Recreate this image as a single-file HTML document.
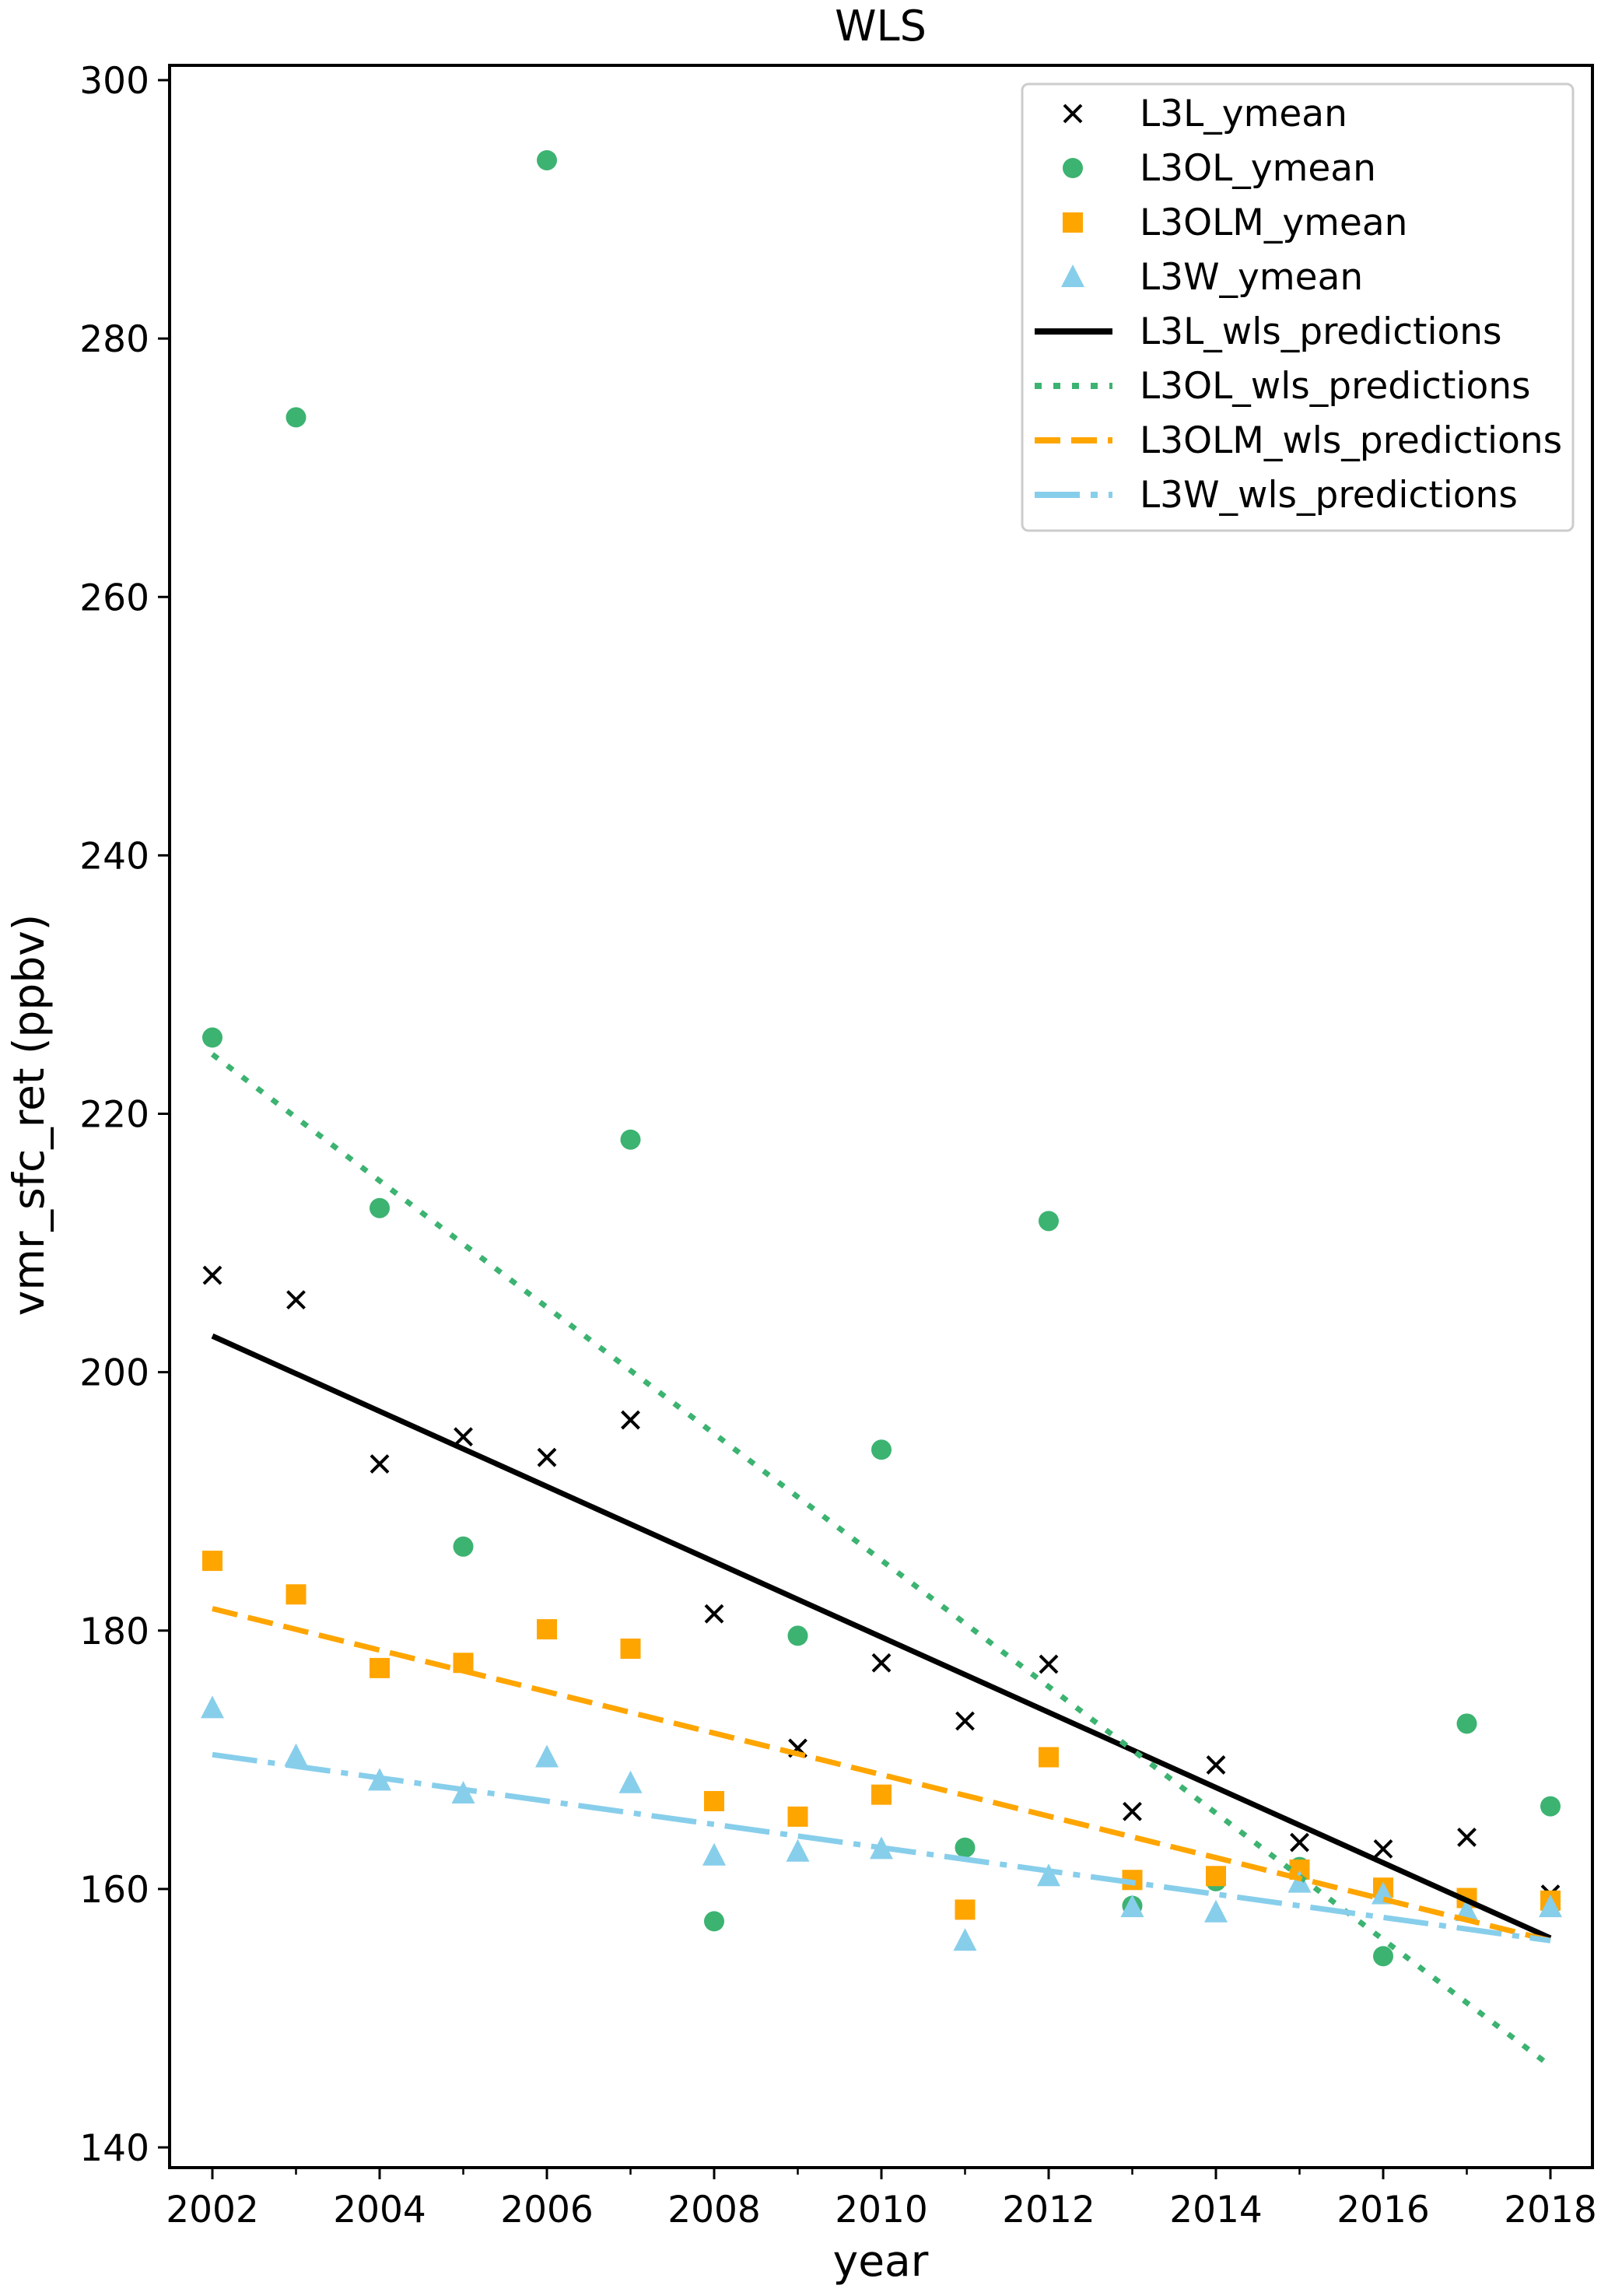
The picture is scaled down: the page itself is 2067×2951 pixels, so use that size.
<!DOCTYPE html>
<html><head><meta charset="utf-8"><style>
html,body{margin:0;padding:0;background:#fff}
svg text{font-family:"DejaVu Sans","Liberation Sans",sans-serif;fill:#000}
</style></head><body>
<svg id="chart" width="2067" height="2946" viewBox="0 0 2067 2946" xmlns="http://www.w3.org/2000/svg">
<rect width="2067" height="2946" fill="#fff"/>
<text x="1132" y="52" font-size="54" text-anchor="middle">WLS</text>
<g id="plot"></g>
<g id="axes"></g>
<text x="1132" y="2925" font-size="55" text-anchor="middle">year</text>
<text transform="translate(56,1433) rotate(-90)" font-size="55" text-anchor="middle">vmr_sfc_ret (ppbv)</text>
<g id="legend"></g>
</svg>
<script>
const years=[2002,2003,2004,2005,2006,2007,2008,2009,2010,2011,2012,2013,2014,2015,2016,2017,2018];
const l3l=[207.5,205.6,192.9,195.0,193.4,196.3,181.3,170.9,177.5,173.0,177.4,166.0,169.6,163.6,163.1,164.0,159.6];
const l3ol=[225.9,273.9,212.7,186.5,293.8,218.0,157.5,179.6,194.0,163.2,211.7,158.7,160.6,161.7,154.8,172.8,166.4];
const l3olm=[185.4,182.8,177.1,177.5,180.1,178.6,166.8,165.6,167.3,158.4,170.2,160.7,161.0,161.5,160.1,159.3,159.1];
const l3w=[174.0,170.3,168.4,167.4,170.2,168.2,162.6,162.9,163.1,156.0,161.0,158.6,158.2,160.5,159.6,158.3,158.6];
const predYears=[2002,2018];
const l3lPred=[202.8,156.2];
const l3olPred=[224.6,146.3];
const l3olmPred=[181.7,156.0];
const l3wPred=[170.4,156.0];
const xTicks=[2002,2004,2006,2008,2010,2012,2014,2016,2018];
const xMinor=[2003,2005,2007,2009,2011,2013,2015,2017];
const yTicks=[140,160,180,200,220,240,260,280,300];

const NS="http://www.w3.org/2000/svg";
const L=218,R=2047,T=84,B=2786;
const X=v=>273+(v-2002)*107.5;
const Y=v=>103+(300-v)*(2760-103)/160;
function mk(tag,attrs,parent){const e=document.createElementNS(NS,tag);for(const k in attrs)e.setAttribute(k,attrs[k]);parent.appendChild(e);return e;}
const plot=document.getElementById('plot'),axes=document.getElementById('axes'),leg=document.getElementById('legend');
const C={green:'#3cb371',orange:'#ffa500',blue:'#87ceeb'};

function cross(x,y,p){return mk('path',{d:`M${x-11},${y-11}L${x+11},${y+11}M${x-11},${y+11}L${x+11},${y-11}`,stroke:'#000','stroke-width':4},p);}
function circ(x,y,p){return mk('circle',{cx:x,cy:y,r:13,fill:C.green},p);}
function sq(x,y,p){return mk('rect',{x:x-13,y:y-13,width:26,height:26,fill:C.orange},p);}
function tri(x,y,p){return mk('path',{d:`M${x},${y-16}L${x+15},${y+13}L${x-15},${y+13}Z`,fill:C.blue},p);}

const lineStyles=[
 {vals:l3lPred,color:'#000',dash:'',name:'l3l-wls-line'},
 {vals:l3olPred,color:C.green,dash:'9,15',name:'l3ol-wls-line'},
 {vals:l3olmPred,color:C.orange,dash:'33,14',name:'l3olm-wls-line'},
 {vals:l3wPred,color:C.blue,dash:'58,14,9,14',name:'l3w-wls-line'}];
const pointSets=[
 {vals:l3l,fn:cross,name:'l3l-point'},
 {vals:l3ol,fn:circ,name:'l3ol-point'},
 {vals:l3olm,fn:sq,name:'l3olm-point'},
 {vals:l3w,fn:tri,name:'l3w-point'}];
pointSets.forEach(s=>{s.vals.forEach((v,i)=>{const e=s.fn(X(years[i]),Y(v),plot);

});});
lineStyles.forEach(s=>{const e=mk('line',{x1:X(predYears[0]),y1:Y(s.vals[0]),x2:X(predYears[1]),y2:Y(s.vals[1]),stroke:s.color,'stroke-width':7,'stroke-dasharray':s.dash},plot);

});

const frame=mk('rect',{x:L,y:T,width:R-L,height:B-T,fill:'none',stroke:'#000','stroke-width':4},axes);


xTicks.forEach(t=>{mk('line',{x1:X(t),y1:B,x2:X(t),y2:B+15,stroke:'#000','stroke-width':3},axes);
const tx=mk('text',{x:X(t),y:B+70,'font-size':47,'text-anchor':'middle'},axes);tx.textContent=t;

});
xMinor.forEach(t=>{mk('line',{x1:X(t),y1:B,x2:X(t),y2:B+9,stroke:'#000','stroke-width':2.5},axes);});
yTicks.forEach(t=>{mk('line',{x1:L,y1:Y(t),x2:L-15,y2:Y(t),stroke:'#000','stroke-width':3},axes);
const tx=mk('text',{x:L-26,y:Y(t)+17,'font-size':47,'text-anchor':'end'},axes);tx.textContent=t;

});

const box=mk('rect',{x:1314,y:108,width:708,height:574,rx:8,fill:'#fff','fill-opacity':0.8,stroke:'#ccc','stroke-width':3},leg);


const legendLabels=['L3L_ymean','L3OL_ymean','L3OLM_ymean','L3W_ymean','L3L_wls_predictions','L3OL_wls_predictions','L3OLM_wls_predictions','L3W_wls_predictions'];
legendLabels.forEach((lab,i)=>{const y=146+i*70;const g=mk('g',{},leg);


if(i<4){pointSets[i].fn(1379,y,g);}else{const s=lineStyles[i-4];mk('line',{x1:1330,y1:y,x2:1430,y2:y,stroke:s.color,'stroke-width':8,'stroke-dasharray':s.dash},g);}
const t=mk('text',{x:1465,y:y+16,'font-size':47},g);t.textContent=lab;});
</script>
</body></html>
